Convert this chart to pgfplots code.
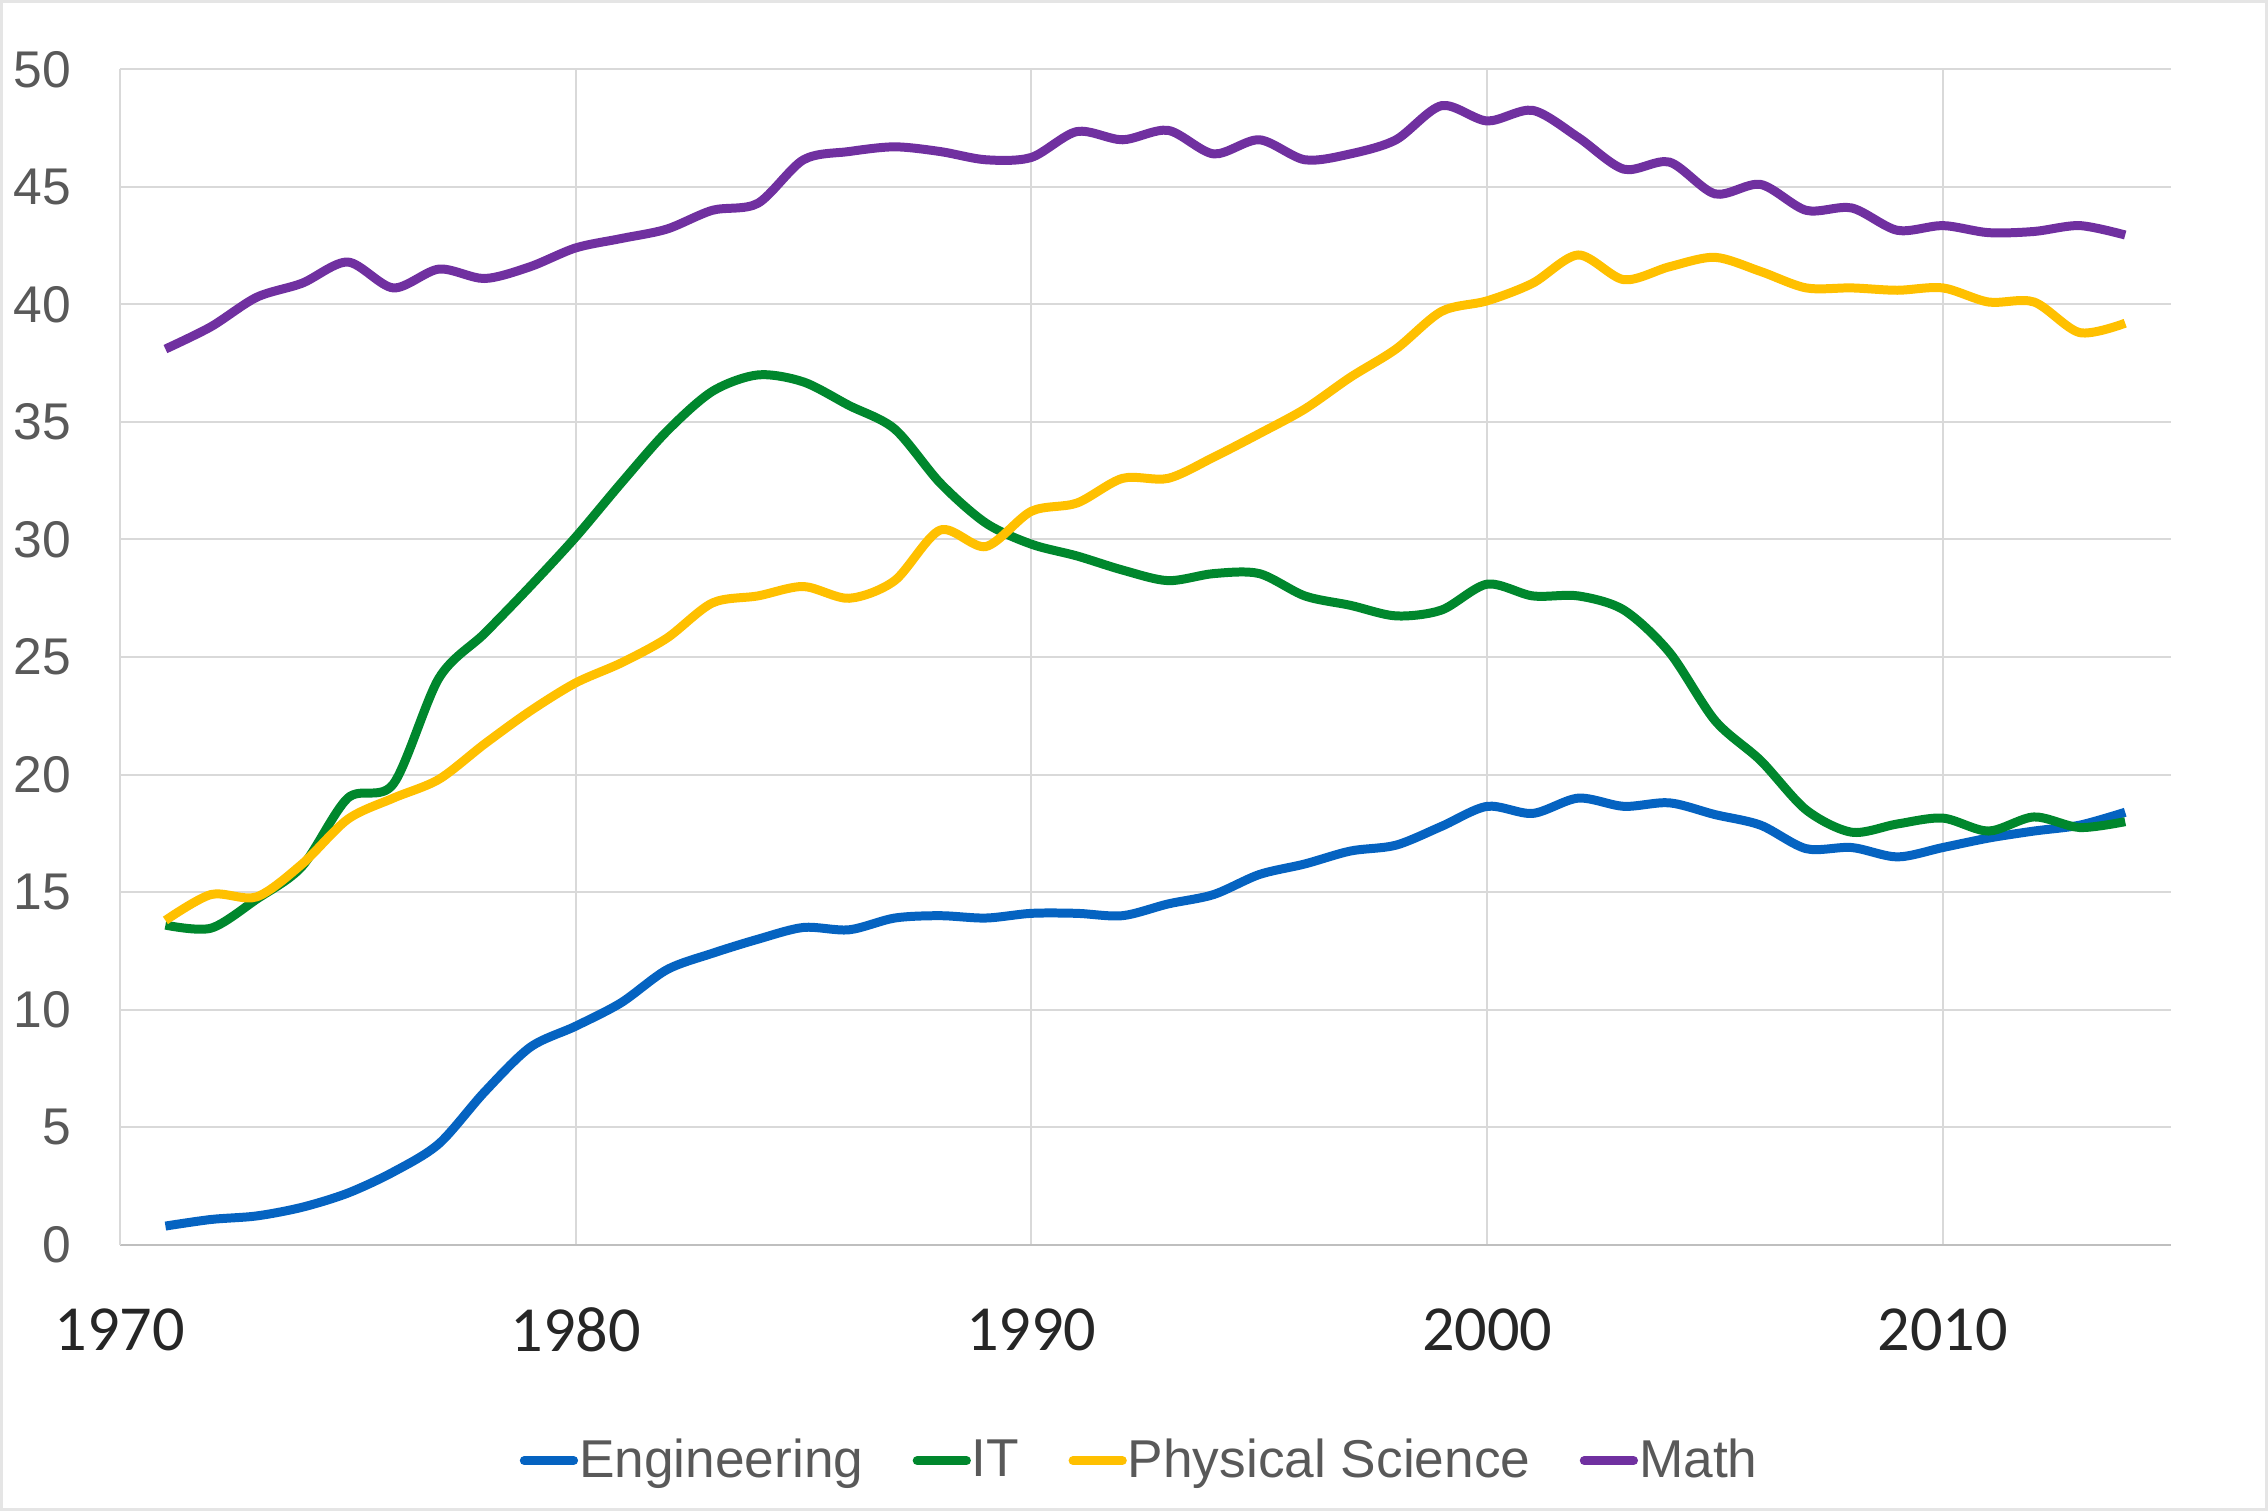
\documentclass[border=0pt]{standalone}
\usepackage{fontspec}
\setmainfont{Liberation Sans}
\newfontfamily\calibri{Carlito}
\usepackage{pgfplots}
\usepackage{pgfplotstable}
\pgfplotsset{compat=1.18}
\definecolor{engc}{HTML}{0563C1}
\definecolor{itc}{HTML}{00872D}
\definecolor{psc}{HTML}{FFC000}
\definecolor{mathc}{HTML}{7030A0}
\definecolor{gridc}{HTML}{D9D9D9}
\definecolor{axisc}{HTML}{BFBFBF}
\definecolor{ylabc}{HTML}{595959}
\definecolor{xlabc}{HTML}{262626}

\pgfplotstableread{
year eng it ps math
1971 0.8 13.6 13.8 38.1
1972 1.08 13.47 14.9 39.05
1973 1.23 14.7 14.8 40.3
1974 1.6 16.1 16.2 40.9
1975 2.2 19.0 18.1 41.8
1976 3.1 19.6 19.0 40.7
1977 4.3 24.1 19.8 41.5
1978 6.5 26.0 21.3 41.1
1979 8.4 28.0 22.7 41.6
1980 9.3 30.1 23.9 42.4
1981 10.3 32.4 24.75 42.8
1982 11.7 34.6 25.8 43.2
1983 12.4 36.3 27.3 44.0
1984 13.0 37.0 27.6 44.3
1985 13.5 36.7 28.0 46.15
1986 13.4 35.7 27.5 46.5
1987 13.9 34.7 28.25 46.7
1988 14.0 32.4 30.4 46.5
1989 13.9 30.7 29.7 46.15
1990 14.1 29.8 31.2 46.25
1991 14.1 29.3 31.55 47.35
1992 14.0 28.7 32.6 47.0
1993 14.5 28.25 32.6 47.4
1994 14.9 28.55 33.5 46.4
1995 15.75 28.55 34.5 47.0
1996 16.2 27.6 35.55 46.15
1997 16.75 27.2 36.9 46.4
1998 17.0 26.75 38.1 47.0
1999 17.8 27.0 39.7 48.45
2000 18.65 28.1 40.15 47.8
2001 18.35 27.6 40.9 48.25
2002 19.0 27.6 42.1 47.1
2003 18.65 27.0 41.05 45.75
2004 18.8 25.2 41.6 46.05
2005 18.3 22.3 42.0 44.7
2006 17.85 20.6 41.4 45.1
2007 16.85 18.5 40.7 44.0
2008 16.9 17.55 40.7 44.1
2009 16.5 17.9 40.6 43.15
2010 16.9 18.15 40.7 43.35
2011 17.3 17.6 40.1 43.05
2012 17.6 18.2 40.1 43.1
2013 17.85 17.75 38.8 43.35
2014 18.4 18.0 39.2 42.95
}\datatable

\begin{document}
\begin{tikzpicture}
\begin{axis}[
  at={(0,0)}, anchor=south west,
  scale only axis, width=616bp, height=353.1bp,
  xmin=1970, xmax=2015, ymin=0, ymax=50,
  xtick={1970,1980,...,2010}, ytick={0,5,...,50},
  axis x line=bottom, axis y line=left,
  x axis line style={draw=axisc, line width=0.8bp, -},
  y axis line style={draw=gridc, line width=0.6bp, -},
  grid=major, major grid style={draw=gridc, line width=0.6bp},
  major tick length=0pt, tick style={draw=none},
  /pgf/number format/1000 sep={},
  /pgf/number format/assume math mode=true,
  xticklabel style={font=\calibri\fontsize{19.3bp}{21bp}\selectfont, text=xlabc, anchor=center, yshift=-25.4bp, inner sep=0pt},
  yticklabel style={font=\fontsize{15.5bp}{17bp}\selectfont, text=ylabc, anchor=east, xshift=-14.4bp, inner sep=0pt},
  legend columns=4,
  legend style={at={(0.497,-0.1835)}, anchor=center, draw=none, fill=none,
    font=\fontsize{16bp}{18bp}\selectfont, text=ylabc,
    /tikz/every even column/.append style={column sep=14.5bp},
    /tikz/every odd column/.append style={column sep=0bp},
    nodes={inner sep=0.3bp}},
  legend image code/.code={\draw[#1, line cap=round] (0bp,0bp) -- (14.8bp,0bp);},
  every axis plot/.append style={line width=2.7bp, smooth, tension=0.5, no markers},
]
\addplot[engc] table[x=year, y=eng] {\datatable};
\addplot[itc] table[x=year, y=it] {\datatable};
\addplot[psc] table[x=year, y=ps] {\datatable};
\addplot[mathc] table[x=year, y=math] {\datatable};
\legend{Engineering, IT, Physical Science, Math}
\end{axis}
\path[use as bounding box, draw=gray!20, line width=0.8bp] (-35.6bp,-79.5bp) rectangle (644.8bp,373.5bp);
\end{tikzpicture}
\end{document}
